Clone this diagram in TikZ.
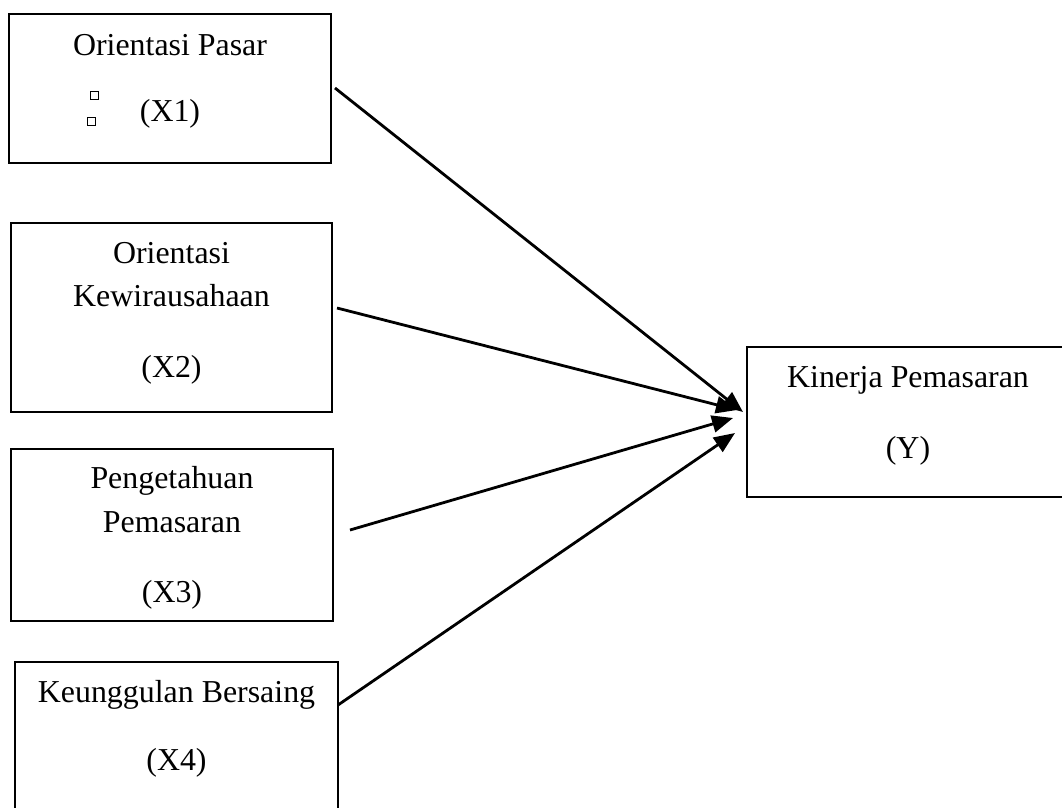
\documentclass[tikz,border=0pt]{standalone}
\usepackage{fontspec}
\setmainfont{Liberation Serif}
\usetikzlibrary{arrows.meta}
\tikzset{
  box/.style={draw=black, line width=2.8pt, fill=none},
  lbl/.style={anchor=base, inner sep=0pt, font=\fontsize{31.9}{38}\selectfont},
  conn/.style={line width=2.8pt, -{Triangle[length=21pt,width=17pt]}},
  tiny/.style={draw=black, line width=0.9pt, minimum size=8pt, inner sep=0pt}
}
\begin{document}
\begin{tikzpicture}[x=1pt,y=-1pt]
\useasboundingbox (0,0) rectangle (1062,807);
\clip (0,0) rectangle (1062,807);
\fill[white] (0,0) rectangle (1062,807);
% boxes
\draw[box] (9,14) rectangle (331,163);
\draw[box] (11,223) rectangle (332,412);
\draw[box] (11,449) rectangle (333,621);
\draw[box] (15,662) rectangle (338,812);
\draw[box] (747,347) rectangle (1069,497);
\node[inner sep=0pt, minimum width=322pt, minimum height=149pt] (b1) at (170,88.5) {};
\node[inner sep=0pt, minimum width=321pt, minimum height=189pt] (b2) at (171.5,317.5) {};
\node[inner sep=0pt, minimum width=322pt, minimum height=172pt] (b3) at (172,535) {};
\node[inner sep=0pt, minimum width=323pt, minimum height=150pt] (b4) at (176.5,737) {};
\node[inner sep=0pt, minimum width=322pt, minimum height=150pt] (by) at (908,422) {};
% texts
\node[lbl] (t1a) at (170,55) {Orientasi Pasar};
\node[lbl] (t1b) at (170,121) {(X1)};
\node[tiny] (sq1) at (94,95) {};
\node[tiny] (sq2) at (91,121) {};
\node[lbl] (t2a) at (171.5,263) {Orientasi};
\node[lbl] (t2b) at (171.5,306) {Kewirausahaan};
\node[lbl] (t2c) at (171.5,377) {(X2)};
\node[lbl] (t3a) at (172,488) {Pengetahuan};
\node[lbl] (t3b) at (172,532) {Pemasaran};
\node[lbl] (t3c) at (172,602) {(X3)};
\node[lbl] (t4a) at (176.5,702) {Keunggulan Bersaing};
\node[lbl] (t4b) at (176.5,770) {(X4)};
\node[lbl] (tya) at (908,387) {Kinerja Pemasaran};
\node[lbl] (tyb) at (908,458) {(Y)};
% connector ends
\coordinate (s1) at (335,88);
\coordinate (s2) at (337,308);
\coordinate (s3) at (350,530);
\coordinate (s4) at (338,705);
\coordinate (e1) at (743,412);
\coordinate (e2) at (737,410);
\coordinate (e3) at (733,418);
\coordinate (e4) at (735,433);
\draw[conn] (s1) -- (e1);
\draw[conn] (s2) -- (e2);
\draw[conn] (s3) -- (e3);
\draw[conn] (s4) -- (e4);
\end{tikzpicture}
\end{document}
